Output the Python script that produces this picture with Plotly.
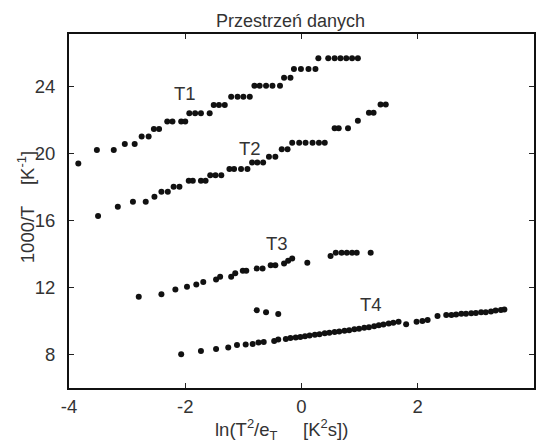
import plotly.graph_objects as go

# ---- data ----
t1_x = [-3.84, -3.52, -3.23, -3.04, -2.87, -2.75, -2.63, -2.54, -2.45, -2.31, -2.22, -2.07, -2.00,
        -1.93, -1.83, -1.73, -1.58, -1.51, -1.42, -1.32, -1.21, -1.10, -1.00, -0.89, -0.81, -0.72,
        -0.61, -0.50, -0.37, -0.30, -0.19, -0.13, -0.01, 0.12, 0.24, 0.29, 0.46, 0.57, 0.67, 0.77,
        0.87, 0.97]
t1_y = [19.4, 20.2, 20.2, 20.55, 20.55, 21.0, 21.0, 21.45, 21.45, 21.9, 21.9, 21.9, 21.9,
        22.39, 22.39, 22.39, 22.39, 22.88, 22.88, 22.88, 23.38, 23.38, 23.38, 23.38, 24.04, 24.04,
        24.04, 24.04, 24.04, 24.51, 24.51, 25.03, 25.03, 25.03, 25.03, 25.67, 25.67, 25.67, 25.67,
        25.67, 25.67, 25.67]

t2_x = [-3.50, -3.16, -2.90, -2.68, -2.53, -2.41, -2.30, -2.20, -2.10, -1.94, -1.87, -1.73, -1.65,
        -1.57, -1.48, -1.38, -1.24, -1.16, -1.04, -0.93, -0.85, -0.76, -0.66, -0.56, -0.45, -0.34,
        -0.24, -0.16, -0.04, 0.07, 0.19, 0.30, 0.40, 0.57, 0.64, 0.80, 0.97, 1.16, 1.24, 1.36, 1.45]
t2_y = [16.26, 16.81, 17.11, 17.11, 17.41, 17.71, 17.71, 18.0, 18.0, 18.36, 18.36, 18.36, 18.36,
        18.70, 18.70, 18.70, 19.06, 19.06, 19.06, 19.06, 19.46, 19.46, 19.46, 19.8, 19.8, 20.24,
        20.24, 20.63, 20.63, 20.63, 20.63, 20.63, 20.63, 21.49, 21.49, 21.49, 21.95, 22.42, 22.42,
        22.92, 22.92]

t3_x = [-2.80, -2.41, -2.17, -1.97, -1.81, -1.69, -1.47, -1.40, -1.21, -1.14, -1.01, -0.95, -0.77,
        -0.67, -0.53, -0.45, -0.30, -0.23, -0.16, 0.10, 0.50, 0.59, 0.69, 0.78, 0.87, 0.95, 1.19,
        -0.77, -0.61, -0.40]
t3_y = [11.44, 11.6, 11.88, 12.04, 12.18, 12.32, 12.48, 12.63, 12.63, 12.84, 12.99, 12.99, 13.13,
        13.13, 13.33, 13.33, 13.43, 13.59, 13.73, 13.47, 13.87, 14.07, 14.07, 14.07, 14.07, 14.07,
        14.07, 10.64, 10.52, 10.41]

t4_x = [-2.07, -1.73, -1.47, -1.26, -1.11, -0.96, -0.84, -0.74, -0.65, -0.47, -0.40, -0.27, -0.19,
        -0.10, -0.02, 0.06, 0.14, 0.23, 0.31, 0.40, 0.48, 0.57, 0.65, 0.74, 0.82, 0.91, 0.99, 1.08,
        1.16, 1.25, 1.33, 1.41, 1.50, 1.58, 1.67, 1.80, 1.98, 2.08, 2.17, 2.34, 2.49, 2.58, 2.66,
        2.75, 2.83, 2.92, 3.00, 3.09, 3.17, 3.26, 3.34, 3.43, 3.49]
t4_y = [8.02, 8.21, 8.33, 8.42, 8.57, 8.60, 8.63, 8.72, 8.75, 8.81, 8.90, 8.93, 8.99,
        9.02, 9.05, 9.09, 9.13, 9.17, 9.21, 9.26, 9.29, 9.34, 9.37, 9.41, 9.45, 9.50, 9.54, 9.59,
        9.63, 9.69, 9.74, 9.79, 9.85, 9.89, 9.95, 9.81, 9.95, 9.99, 10.05, 10.30, 10.35, 10.35, 10.38,
        10.43, 10.43, 10.46, 10.48, 10.52, 10.52, 10.56, 10.62, 10.66, 10.69]

series_names = ["T1", "T2", "T3", "T4"]
label_x = [-2.0, -0.88, -0.42, 1.19]
label_y = [23.55, 20.3, 14.65, 11.0]

x_ticks = [-4, -2, 0, 2, 4]
x_ticktext = ["-4", "-2", "0", "2", "4"]
y_ticks = [8, 12, 16, 20, 24]
y_ticktext = ["8", "12", "16", "20", "24"]

title_text = "Przestrzeń danych"
x_title = "ln(T<sup>2</sup>/e<sub>T</sub>&nbsp;&nbsp;&nbsp;&nbsp;&nbsp;[K<sup>2</sup>s])"
y_title = "1000/T&nbsp;&nbsp;&nbsp;&nbsp;[K<sup>-1</sup>]"

FONT = "Liberation Sans, Arial, sans-serif"
TXT = "#333333"
FS = 18.5

fig = go.Figure()
for xs, ys in [(t1_x, t1_y), (t2_x, t2_y), (t3_x, t3_y), (t4_x, t4_y)]:
    fig.add_trace(go.Scatter(x=xs, y=ys, mode="markers",
                             marker=dict(size=6, color="#111111", line=dict(width=0)),
                             showlegend=False, hoverinfo="skip"))

annotations = []
for n, lx, ly in zip(series_names, label_x, label_y):
    annotations.append(dict(x=lx, y=ly, xref="x", yref="y", text=n, showarrow=False,
                            font=dict(family=FONT, size=FS, color=TXT)))

W, H = 538, 443
L, R, T, B = 69, 2, 34, 55
pw, ph = W - L - R, H - T - B

def px(xp):
    return (xp - L) / pw

def py(yp):
    return (H - B - yp) / ph

annotations.append(dict(x=px(291.5), y=py(21), xref="paper", yref="paper", text=title_text,
                        showarrow=False, xanchor="center", yanchor="middle",
                        font=dict(family=FONT, size=18, color=TXT)))
annotations.append(dict(x=px(282), y=py(429), xref="paper", yref="paper", text=x_title,
                        showarrow=False, xanchor="center", yanchor="middle",
                        font=dict(family=FONT, size=FS, color=TXT)))
annotations.append(dict(x=px(26), y=py(207), xref="paper", yref="paper", text=y_title,
                        showarrow=False, xanchor="center", yanchor="middle", textangle=-90,
                        font=dict(family=FONT, size=FS, color=TXT)))

axis_common = dict(showgrid=False, zeroline=False, showline=True, linecolor="#111111",
                   linewidth=2, mirror="ticks", ticks="inside", ticklen=5, tickwidth=1.2,
                   tickcolor="#222222", tickfont=dict(family=FONT, size=FS, color=TXT))

fig.update_layout(
    width=W, height=H,
    margin=dict(l=L, r=R, t=T, b=B, pad=0),
    paper_bgcolor="white", plot_bgcolor="white",
    xaxis=dict(range=[-4, 4], tickmode="array", tickvals=x_ticks, ticktext=x_ticktext,
               ticklabelstandoff=1, **axis_common),
    yaxis=dict(range=[6, 27.12], tickmode="array", tickvals=y_ticks, ticktext=y_ticktext,
               ticklabelstandoff=8, **axis_common),
    annotations=annotations,
)

fig.write_html("out.html")
